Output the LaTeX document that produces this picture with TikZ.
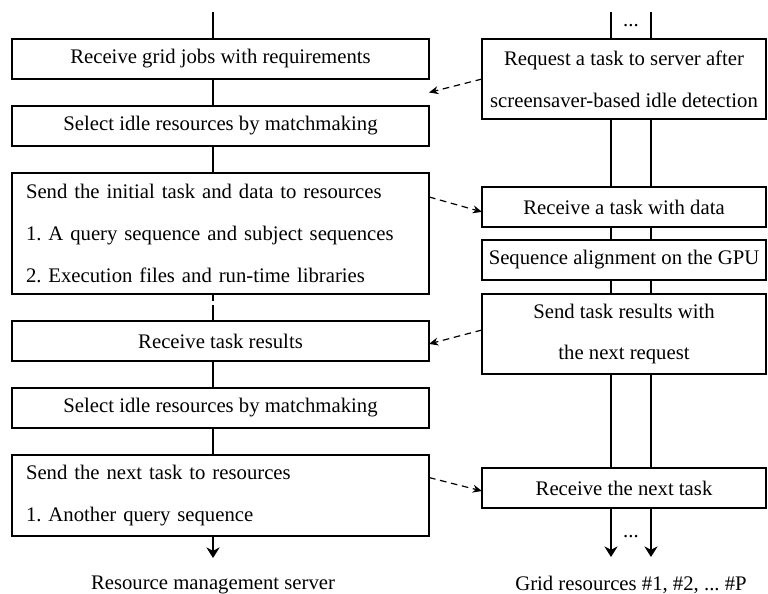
\documentclass[tikz,border=0pt]{standalone}
\usepackage{fontspec}
\setmainfont{Liberation Serif}
\frenchspacing
\usetikzlibrary{arrows.meta}
\usetikzlibrary{shapes}

\begin{document}
\begin{tikzpicture}

\tikzstyle{every node}=[font={\fontsize{15.6}{31.5}\selectfont}]
\tikzstyle{server}=[rectangle,line width={1.1pt},outer sep={0pt},minimum width={11.033cm},minimum height={1.058cm},align={center}]
\tikzstyle{serverlist}=[rectangle,line width={1.1pt},outer sep={0pt},text width={10.293cm},inner xsep={0.370cm},align={left}]
\tikzstyle{resource}=[rectangle,line width={1.1pt},outer sep={0pt},minimum width={7.514cm},minimum height={1.058cm},align={center}]
\tikzstyle{flow}=[line width={1.1pt}]
\tikzstyle{message}=[arrows={-Stealth[length=7pt,width=6pt]},dash pattern={on 5pt off 3.5pt},line width={0.9pt}]
\tikzstyle{result}=[arrows={-Stealth[length=8pt,width=10pt]},line width={1.1pt}]

\useasboundingbox (0,0) rectangle (20.32,-15.716) ;

% server: nodes

\node at (0.318,-1.032) [draw,anchor={north west},server] (L1) {Receive grid jobs with requirements} ;
\node at ([shift={(0.0cm,-0.714cm)}] L1.south west) [draw,anchor={north west},server] (L2) {Select idle resources by matchmaking} ;
\node at ([shift={(0.0cm,-0.714cm)}] L2.south west) [draw,anchor={north west},serverlist,minimum height={3.201cm}] (L3) {Send the initial task and data to resources\\1. A query sequence and subject sequences\\2. Execution files and run-time libraries} ;
\node at ([shift={(0.0cm,-0.714cm)}] L3.south west) [draw,anchor={north west},server] (L4) {Receive task results} ;
\node at ([shift={(0.0cm,-0.714cm)}] L4.south west) [draw,anchor={north west},server] (L5) {Select idle resources by matchmaking} ;
\node at ([shift={(0.0cm,-0.714cm)}] L5.south west) [draw,anchor={north west},serverlist,minimum height={2.143cm}] (L6) {Send the next task to resources\\1. Another query sequence} ;

% resources: nodes

\node at (12.753,-1.032) [draw,anchor={north west},resource,minimum height={2.117cm}] (R1) {Request a task to server after\\screensaver-based idle detection} ;
\node at ([shift={(0.0cm,-1.799cm)}] R1.south west) [draw,anchor={north west},resource] (R2) {Receive a task with data} ;
\node at ([shift={(0.0cm,-0.344cm)}] R2.south west) [draw,anchor={north west},resource] (R3) {Sequence alignment on the GPU} ;
\node at ([shift={(0.0cm,-0.370cm)}] R3.south west) [draw,anchor={north west},resource,minimum height={2.117cm}] (R4) {Send task results with\\the next request} ;
\node at ([shift={(0.0cm,-2.487cm)}] R4.south west) [draw,anchor={north west},resource] (R5) {Receive the next task} ;

% labels and line ends

\coordinate (LT) at (5.636,-0.318) ;
\coordinate (LB) at (5.636,-14.764) ;
\coordinate (RTa) at (16.166,-0.318) ;
\coordinate (RTb) at (17.224,-0.318) ;
\coordinate (RBa) at (16.166,-14.737) ;
\coordinate (RBb) at (17.224,-14.737) ;

\node at (16.695,-0.714) [anchor={base}] (RDT) {...} ;
\node at (16.695,-14.234) [anchor={base}] (RDB) {...} ;
\node at (5.636,-15.478) (LS) {Resource management server} ;
\node at (16.695,-15.478) (RG) {Grid resources \#1, \#2, ... \#P} ;

% connections: server

\draw [flow] (LT) -- (LT |- L1.north) ;
\draw [flow] (LT |- L1.south) -- (LT |- L2.north) ;
\draw [flow] (LT |- L2.south) -- (LT |- L3.north) ;
\draw [flow,dash pattern={on 5.5pt off 3pt on 15pt off 0pt}] (LT |- L3.south) -- (LT |- L4.north) ;
\draw [flow] (LT |- L4.south) -- (LT |- L5.north) ;
\draw [flow] (LT |- L5.south) -- (LT |- L6.north) ;
\draw [result] (LB |- L6.south) -- (LB) ;

% connections: resources

\draw [flow] (RTa) -- (RTa |- R1.north) ;
\draw [flow] (RTb) -- (RTb |- R1.north) ;
\draw [flow] (RTa |- R1.south) -- (RTa |- R2.north) ;
\draw [flow] (RTb |- R1.south) -- (RTb |- R2.north) ;
\draw [flow] (RTa |- R2.south) -- (RTa |- R3.north) ;
\draw [flow] (RTb |- R2.south) -- (RTb |- R3.north) ;
\draw [flow] (RTa |- R3.south) -- (RTa |- R4.north) ;
\draw [flow] (RTb |- R3.south) -- (RTb |- R4.north) ;
\draw [flow] (RTa |- R4.south) -- (RTa |- R5.north) ;
\draw [flow] (RTb |- R4.south) -- (RTb |- R5.north) ;
\draw [result] (RBa |- R5.south) -- (RBa) ;
\draw [result] (RBb |- R5.south) -- (RBb) ;

% connections: messages

\draw [message] (R1.west) -- ([shift={(0.0cm,-0.357cm)}] L1.south east) ;
\draw [message] ([shift={(0.0cm,-0.635cm)}] L3.north east) -- ([shift={(0.0cm,-0.130cm)}] R2.west) ;
\draw [message] ([shift={(0.0cm,+0.106cm)}] R4.west) -- ([shift={(0.0cm,-0.080cm)}] L4.east) ;
\draw [message] ([shift={(0.0cm,-0.600cm)}] L6.north east) -- ([shift={(0.0cm,-0.080cm)}] R5.west) ;

\end{tikzpicture}
\end{document}
